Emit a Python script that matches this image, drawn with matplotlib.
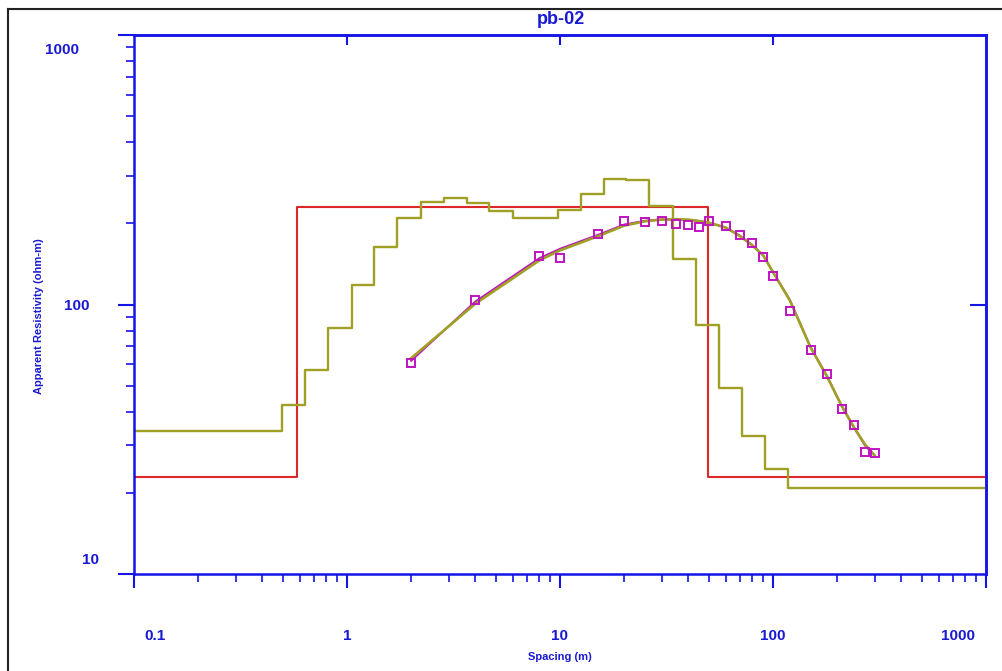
import matplotlib
matplotlib.use('Agg')
import matplotlib.pyplot as plt
from matplotlib.lines import Line2D

# field data (AB/2 spacing, apparent resistivity)
spacing = [2, 4, 8, 10, 15, 20, 25, 30, 35, 40, 45, 50, 60, 70, 80,
           90, 100, 120, 150, 180, 210, 240, 270, 300]
rho_obs = [60.7, 104, 151, 149, 182, 203.5, 203, 204.7, 198.9, 197.9, 193.3,
           204.3, 195, 180.5, 169, 150.4, 127.4, 94.2, 67.6, 55.3, 41.1,
           35.8, 28.4, 28.1]
# calculated curves
rho_calc_layer = [61.8, 102.5, 148.5, 161, 181, 198, 204.5, 207, 207, 206, 204,
                  201, 193, 180, 166, 152, 132, 104, 69.5, 54, 42, 35, 30, 27.6]
rho_calc_smooth = [63.2, 100.6, 145.8, 158.8, 178.9, 196.1, 203.5, 206.5, 207,
                   206.5, 204, 201.2, 193, 179.3, 165.7, 152.1, 131.9, 103.5,
                   69.4, 53.7, 42.1, 35.0, 30.3, 27.5]

# 3-layer model
layer_depth = [0.1, 0.583, 49.3, 1000]
layer_rho = [22.9, 231, 22.9, 22.9]

# smooth multilayer model
smooth_depth = [0.1, 0.496, 0.634, 0.816, 1.05, 1.34, 1.72, 2.22, 2.84, 3.64,
                4.66, 6.00, 7.71, 9.80, 12.6, 16.1, 20.5, 26.3, 33.9, 43.3,
                55.8, 71.3, 91.5, 117, 1000]
smooth_rho = [33.8, 42.5, 57.3, 81.8, 118, 164, 210, 240, 248, 238, 222, 209,
              209, 225, 257, 291, 289, 232, 147, 83.8, 49.1, 32.4, 24.6, 20.9,
              20.9]

x_ticks = [0.1, 1, 10, 100, 1000]
x_ticklabels = ['0.1', '1', '10', '100', '1000']
y_ticks = [1000, 100, 10]
y_ticklabels = ['1000', '100', '10']

BLUE = '#1414e6'
TXT = '#1a1ad2'
RED = '#dc2828'
OLIVE = '#a0a024'
MAG = '#be14be'
FONT = ['Liberation Sans', 'DejaVu Sans']

fig = plt.figure(figsize=(10.03, 6.71), dpi=100)
W, H = 1003, 671
ax = fig.add_axes([134 / W, 1 - 574 / H, (986 - 134) / W, (574 - 35) / H])
ax.set_xscale('log')
ax.set_yscale('log')
ax.set_xlim(0.1, 1000)
ax.set_ylim(10, 1000)

ax.step(layer_depth, layer_rho, where='post', color=RED, lw=1.5)
ax.step(smooth_depth, smooth_rho, where='post', color=OLIVE, lw=1.7)
ax.plot(spacing, rho_calc_layer, color=MAG, lw=1.4)
ax.plot(spacing, rho_calc_smooth, color=OLIVE, lw=1.9)
ax.plot(spacing, rho_obs, ls='none', marker='s', ms=6, mfc='none',
        mec=MAG, mew=1.4)

for s in ax.spines.values():
    s.set_color(BLUE)
    s.set_linewidth(1.8)

ax.tick_params(axis='x', which='major', direction='out', length=10, width=1.5,
               color=BLUE, labelbottom=False)
ax.tick_params(axis='x', which='minor', direction='out', length=5.8, width=1.2,
               color=BLUE, labelbottom=False)
ax.tick_params(axis='y', which='major', direction='out', length=11.5, width=1.5,
               color=BLUE, labelleft=False)
ax.tick_params(axis='y', which='minor', direction='out', length=5.8, width=1.2,
               color=BLUE, labelleft=False)
ax.set_xticks(x_ticks)
ax.set_yticks(y_ticks)

top = ax.secondary_xaxis('top')
top.set_xticks([1, 10, 100])
top.xaxis.set_minor_locator(matplotlib.ticker.NullLocator())
top.tick_params(direction='in', length=7.2, width=1.5, color=BLUE, labeltop=False)
top.spines['top'].set_color(BLUE)
top.spines['top'].set_linewidth(1.8)

right = ax.secondary_yaxis('right')
right.set_yticks([100])
right.yaxis.set_minor_locator(matplotlib.ticker.NullLocator())
right.tick_params(direction='in', length=11.5, width=1.5, color=BLUE, labelright=False)
right.spines['right'].set_color(BLUE)
right.spines['right'].set_linewidth(1.8)

# tick labels, end labels pulled inwards like the original
x_off = [21, 0, 0, 0, -28]
for v, lab, dx in zip(x_ticks, x_ticklabels, x_off):
    ax.annotate(lab, xy=(v, 0), xycoords=('data', 'axes fraction'),
                xytext=(dx, -62), textcoords='offset pixels', ha='center',
                va='center', color=TXT, fontsize=11, fontweight='bold',
                family=FONT, annotation_clip=False)
y_off = [(-72, -15), (-57, -1), (-43, 14)]
for v, lab, (dx, dy) in zip(y_ticks, y_ticklabels, y_off):
    ax.annotate(lab, xy=(0, v), xycoords=('axes fraction', 'data'),
                xytext=(dx, dy), textcoords='offset pixels', ha='center',
                va='center', color=TXT, fontsize=11, fontweight='bold',
                family=FONT, annotation_clip=False)

fig.text(560 / W, 1 - 657 / H, 'Spacing (m)', ha='center', va='center',
         color=TXT, fontsize=8, fontweight='bold', family=FONT)
fig.text(39 / W, 1 - 316 / H, 'Apparent Resistivity (ohm-m)', ha='center',
         va='center', rotation=90, color=TXT, fontsize=8, fontweight='bold',
         family=FONT)
fig.text(561 / W, 1 - 20 / H, 'pb-02', ha='center', va='center', color=TXT,
         fontsize=13, fontweight='bold', family=FONT)

# outer frame
fig.add_artist(Line2D([8 / W, 1], [1 - 9 / H, 1 - 9 / H], color='#222222', lw=1.5))
fig.add_artist(Line2D([8 / W, 8 / W], [0, 1 - 9 / H], color='#222222', lw=1.5))

fig.savefig('out.png', dpi=100)
